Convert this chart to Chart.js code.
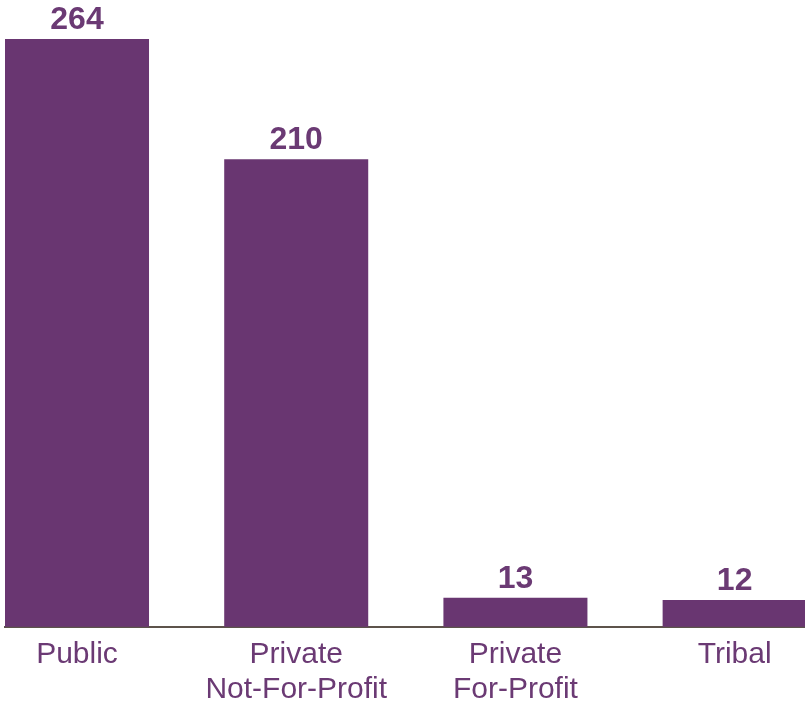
<!DOCTYPE html>
<html>
<head>
<meta charset="utf-8">
<script src="https://cdn.jsdelivr.net/npm/chart.js@4.4.1/dist/chart.umd.min.js"></script>
<style>
  html, body { margin: 0; padding: 0; background: #ffffff; }
  #wrap { width: 805px; height: 703px; }
</style>
</head>
<body>
<div id="wrap"><canvas id="sectorChart"></canvas></div>
<script>
// Institutions by sector
const categories = [["Public"], ["Private", "Not-For-Profit"], ["Private", "For-Profit"], ["Tribal"]];
const counts = [264, 210, 13, 12];

const purple = "#693671";
const labelPurple = "#6b3a74";

// value label above each bar
const barValues = {
  id: "barValues",
  afterDatasetsDraw: (chart) => {
    const ctx = chart.ctx;
    const meta = chart.getDatasetMeta(0);
    ctx.save();
    ctx.font = "bold 32px 'Liberation Sans', Arial, sans-serif";
    ctx.fillStyle = labelPurple;
    ctx.textAlign = "center";
    ctx.textBaseline = "alphabetic";
    meta.data.forEach((bar, i) => {
      ctx.fillText(String(counts[i]), bar.x, bar.y - 10);
    });
    ctx.restore();
  },
};

new Chart(document.getElementById("sectorChart"), {
  type: "bar",
  data: {
    datasets: [
      {
        data: counts.map((v, i) => ({ x: i, y: v })),
        backgroundColor: purple,
        hoverBackgroundColor: purple,
        borderWidth: 0,
        barPercentage: 0.657,
        categoryPercentage: 1,
        clip: false,
      },
    ],
  },
  options: {
    responsive: true,
    maintainAspectRatio: false,
    animation: false,
    layout: {
      padding: { top: 39, left: 5, right: 0, bottom: -14 },
    },
    scales: {
      x: {
        type: "linear",
        offset: false,
        min: -0.3285,
        max: 3.321,
        afterBuildTicks: (scale) => {
          scale.ticks = categories.map((c, i) => ({ value: i }));
        },
        grid: { display: false, drawTicks: false },
        border: { display: true, color: "#5d534b", width: 2 },
        ticks: {
          autoSkip: false,
          maxRotation: 0,
          padding: 10,
          color: labelPurple,
          font: { family: "'Liberation Sans', Arial, sans-serif", size: 30, lineHeight: 1.17 },
          callback: (value) => categories[value],
        },
      },
      y: {
        display: false,
        min: 0,
        max: 264,
      },
    },
    plugins: {
      legend: { display: false },
      tooltip: { enabled: false },
    },
  },
  plugins: [barValues],
});
</script>
</body>
</html>
